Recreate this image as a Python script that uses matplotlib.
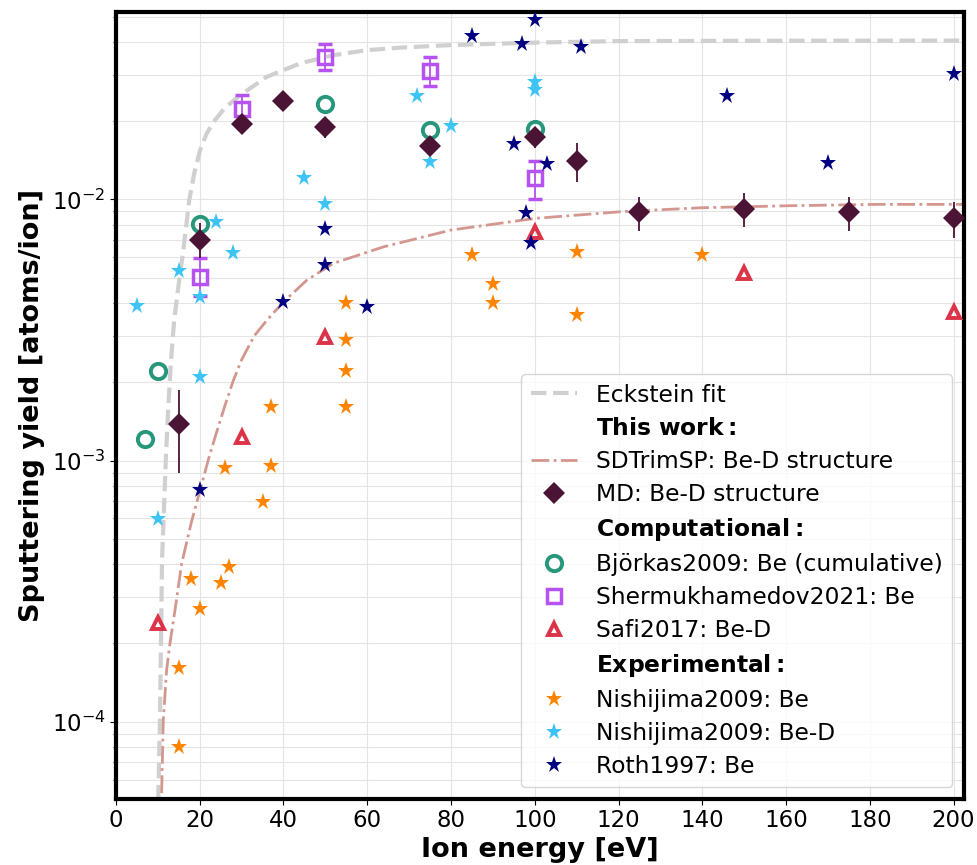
import matplotlib
matplotlib.use("Agg")
import matplotlib.pyplot as plt
from matplotlib.lines import Line2D

# ── Data ─────────────────────────────────────────────────────────────
# Eckstein fit (grey dashed)
ECK_E = [10.1, 10.5, 10.75, 11.0, 11.9, 12.5, 13.1, 13.9, 14.5, 15.1, 16.1,
         17.5, 18.7, 20.1, 21.6, 23.3, 26.0, 29.6, 36, 44, 52, 60, 68, 80,
         100, 120, 150, 202.5]
ECK_Y = [5.0e-5, 1.015e-4, 2.0e-4, 4.16e-4, 1.005e-3, 1.61e-3, 2.36e-3,
         3.45e-3, 4.11e-3, 4.91e-3, 6.40e-3, 9.94e-3, 0.0126, 0.01544,
         0.0178, 0.0198, 0.0224, 0.0250, 0.02946, 0.03317, 0.03568, 0.03728,
         0.03812, 0.03897, 0.03984, 0.04036, 0.04047, 0.04055]

# SDTrimSP, Be-D structure (dash-dot)
SDT_E = [10.9, 11.3, 12.1, 12.9, 14.1, 15.7, 18.0, 20.1, 22.0, 23.7, 26.0,
         28.0, 30.0, 33.0, 36.0, 40.0, 45.6, 51.9, 63.9, 80.0, 100.2, 120.5,
         139.9, 160.1, 182, 202.5]
SDT_Y = [5.33e-5, 1.015e-4, 1.58e-4, 2.0e-4, 2.68e-4, 4.04e-4, 5.8e-4,
         7.71e-4, 1.0e-3, 1.234e-3, 1.62e-3, 2.02e-3, 2.43e-3, 3.0e-3,
         3.44e-3, 4.05e-3, 4.91e-3, 5.69e-3, 6.58e-3, 7.63e-3, 8.46e-3,
         8.97e-3, 9.29e-3, 9.45e-3, 9.57e-3, 9.57e-3]

# MD, Be-D structure (this work) with error bars
MD_E = [15, 20, 30, 40, 50, 75, 100, 110, 125, 150, 175, 200]
MD_Y = [1.38e-3, 6.98e-3, 0.0194, 0.0239, 0.01897, 0.0160, 0.01738,
        0.01402, 8.92e-3, 9.18e-3, 8.92e-3, 8.46e-3]
MD_LO = [8.97e-4, 5.94e-3, 0.0180, 0.0218, 0.01714, 0.01479, 0.01567,
         0.01165, 7.56e-3, 7.81e-3, 7.56e-3, 7.09e-3]
MD_HI = [1.86e-3, 8.09e-3, 0.0209, 0.0261, 0.0207, 0.01686, 0.01897,
         0.01648, 0.01023, 0.01055, 0.01023, 9.79e-3]

# Computational
BJO_E = [7, 10, 20, 50, 75, 100]
BJO_Y = [1.21e-3, 2.21e-3, 8.04e-3, 0.02317, 0.01842, 0.01853]

SHE_E = [20, 30, 50, 75, 100]
SHE_Y = [5.03e-3, 0.02211, 0.03516, 0.03097, 0.01203]
SHE_LO = [4.27e-3, 0.0195, 0.03126, 0.02716, 0.01003]
SHE_HI = [5.96e-3, 0.02507, 0.0392, 0.03516, 0.01401]

SAFI_E = [10, 30, 50, 100, 150, 200]
SAFI_Y = [2.38e-4, 1.234e-3, 2.98e-3, 7.48e-3, 5.21e-3, 3.69e-3]

# Experimental
NBE_E = [15, 15, 18, 20, 25, 27, 26, 35, 37, 37, 55, 55, 55, 55,
         85, 90, 90, 110, 110, 140]
NBE_Y = [8.02e-5, 1.60e-4, 3.51e-4, 2.70e-4, 3.40e-4, 3.92e-4, 9.33e-4,
         6.96e-4, 9.53e-4, 1.607e-3, 4.0e-3, 2.89e-3, 2.21e-3, 1.607e-3,
         6.12e-3, 4.73e-3, 4.02e-3, 6.30e-3, 3.61e-3, 6.12e-3]

NBED_E = [5, 10, 15, 20, 20, 24, 28, 45, 50, 72, 75, 80, 100, 100]
NBED_Y = [3.90e-3, 5.95e-4, 5.33e-3, 4.22e-3, 2.09e-3, 8.21e-3, 6.21e-3,
          0.01203, 9.59e-3, 0.02492, 0.01393, 0.01904, 0.02819, 0.02621]

ROTH_E = [20, 40, 60, 50, 50, 85, 97, 100, 111, 95, 103, 98, 99,
          146, 170, 200]
ROTH_Y = [7.71e-4, 4.06e-3, 3.86e-3, 7.68e-3, 5.60e-3, 0.04229, 0.03932,
          0.04858, 0.03819, 0.01628, 0.01365, 8.86e-3, 6.82e-3, 0.02492,
          0.01373, 0.03017]

X_TICKS = list(range(0, 201, 20))

# ── Styles ───────────────────────────────────────────────────────────
C_ECK = "#d0d0d0"
C_SDT = "#d4978f"
C_MD = "#4b1434"
C_BJO = "#27977b"
C_SHE = "#b652f0"
C_SAFI = "#dc3348"
C_NBE = "#ff8400"
C_NBED = "#3ec3f5"
C_ROTH = "#000080"

FS_TICK = 16.5
FS_LEG = 16.8
FS_LAB = 19.5

fig = plt.figure(figsize=(9.77, 8.65), dpi=100)
ax = fig.add_axes([0.1187, 0.0763, 0.868, 0.9104])
ax.set_yscale("log")

# fits
ax.plot(ECK_E, ECK_Y, "--", color=C_ECK, lw=3, zorder=2)
ax.plot(SDT_E, SDT_Y, "-.", color=C_SDT, lw=2, zorder=2)

# computational
ax.plot(BJO_E, BJO_Y, "o", ms=11, mfc="none", mec=C_BJO, mew=2.8, zorder=3)
ax.errorbar(SHE_E, SHE_Y,
            yerr=[[y - l for y, l in zip(SHE_Y, SHE_LO)],
                  [h - y for y, h in zip(SHE_Y, SHE_HI)]],
            fmt="s", ms=9.5, mfc="none", mec=C_SHE, mew=2.5,
            ecolor=C_SHE, elinewidth=1.3, capsize=5, capthick=1.3, zorder=3)
ax.plot(SAFI_E, SAFI_Y, "^", ms=9, mfc="none", mec=C_SAFI, mew=2.8, zorder=3)

# experimental
ax.plot(NBE_E, NBE_Y, "*", ms=12.5, color=C_NBE, mew=0, zorder=4)
ax.plot(NBED_E, NBED_Y, "*", ms=12.5, color=C_NBED, mew=0, zorder=4)
ax.plot(ROTH_E, ROTH_Y, "*", ms=12.5, color=C_ROTH, mew=0, zorder=4)

# this work, MD
ax.errorbar(MD_E, MD_Y,
            yerr=[[y - l for y, l in zip(MD_Y, MD_LO)],
                  [h - y for y, h in zip(MD_Y, MD_HI)]],
            fmt="D", ms=11, color=C_MD, mew=0,
            ecolor=C_MD, elinewidth=1.3, capsize=5, capthick=1.3, zorder=5)

# ── Axes ─────────────────────────────────────────────────────────────
ax.set_xlim(0, 202.5)
ax.set_ylim(5.06e-5, 0.0524)
ax.set_xticks(X_TICKS)
ax.tick_params(axis="both", which="major", labelsize=FS_TICK, length=4)
ax.tick_params(axis="y", which="minor", length=2.5)
ax.grid(True, which="both", color="#e4e4e4", lw=0.8, zorder=0)
ax.set_axisbelow(True)
for sp in ax.spines.values():
    sp.set_linewidth(3)

ax.set_xlabel("Ion energy [eV]", fontsize=FS_LAB, fontweight="bold",
              labelpad=3)
ax.set_ylabel("Sputtering yield [atoms/ion]", fontsize=FS_LAB,
              fontweight="bold", labelpad=5)

# ── Legend ───────────────────────────────────────────────────────────
blank = dict(linestyle="none", marker="none")
handles = [
    Line2D([], [], ls="--", color=C_ECK, lw=3),
    Line2D([], [], **blank),
    Line2D([], [], ls="-.", color=C_SDT, lw=2),
    Line2D([], [], ls="none", marker="D", ms=11, color=C_MD, mew=0),
    Line2D([], [], **blank),
    Line2D([], [], ls="none", marker="o", ms=11, mfc="none", mec=C_BJO, mew=2.8),
    Line2D([], [], ls="none", marker="s", ms=9.5, mfc="none", mec=C_SHE, mew=2.5),
    Line2D([], [], ls="none", marker="^", ms=9, mfc="none", mec=C_SAFI, mew=2.8),
    Line2D([], [], **blank),
    Line2D([], [], ls="none", marker="*", ms=12.5, color=C_NBE, mew=0),
    Line2D([], [], ls="none", marker="*", ms=12.5, color=C_NBED, mew=0),
    Line2D([], [], ls="none", marker="*", ms=12.5, color=C_ROTH, mew=0),
]
labels = [
    "Eckstein fit",
    r"$\bf{This\ work:}$",
    "SDTrimSP: Be-D structure",
    "MD: Be-D structure",
    r"$\bf{Computational:}$",
    "Björkas2009: Be (cumulative)",
    "Shermukhamedov2021: Be",
    "Safi2017: Be-D",
    r"$\bf{Experimental:}$",
    "Nishijima2009: Be",
    "Nishijima2009: Be-D",
    "Roth1997: Be",
]
leg = ax.legend(handles, labels, loc="lower right", fontsize=FS_LEG,
                labelspacing=0.43, borderaxespad=0.5)
leg.set_zorder(10)

fig.savefig("out.png", dpi=100)
